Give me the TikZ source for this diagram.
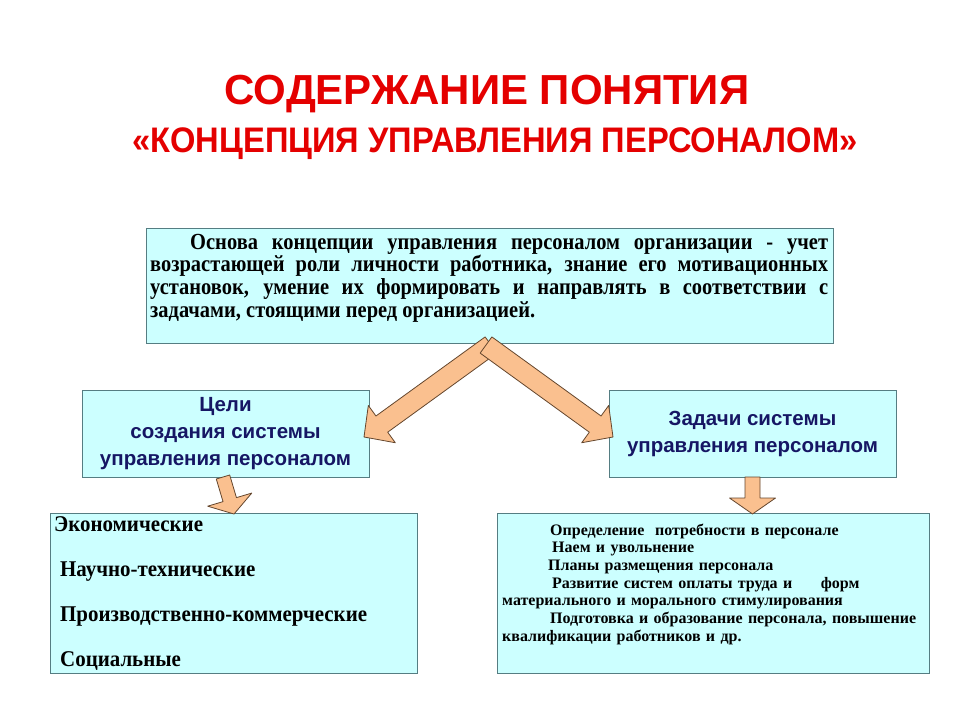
\documentclass[tikz,border=0pt]{standalone}
\usepackage{fontspec}
\setmainfont{Liberation Serif}
\setsansfont{Liberation Sans}
\newfontfamily\narrowsans[FakeStretch=0.92]{Liberation Sans}
\newfontfamily\narrowserif[FakeStretch=0.89]{Liberation Serif}
\newfontfamily\listserif[FakeStretch=0.93]{Liberation Serif}
\usetikzlibrary{calc}

\definecolor{boxfill}{RGB}{204,255,255}
\definecolor{boxline}{RGB}{85,125,130}
\definecolor{arrowfill}{RGB}{250,192,143}
\definecolor{arrowline}{RGB}{100,70,45}
\definecolor{titlered}{RGB}{228,0,0}
\definecolor{navytext}{RGB}{22,22,100}

% block arrow: tail, tip, half shaft, half head, head length
\newcommand{\blockarrow}[5]{%
  \coordinate (hb) at ($(#2)!#5!(#1)$);
  \filldraw[arrowbody] ($(#1)!#3!90:(#2)$) -- ($(hb)!#3!90:(#2)$)
    -- ($(hb)!#4!90:(#2)$) -- (#2) -- ($(hb)!#4!-90:(#2)$)
    -- ($(hb)!#3!-90:(#2)$) -- ($(#1)!#3!-90:(#2)$) -- cycle;
}

\begin{document}
\begin{tikzpicture}[x=1pt,y=-1pt,
    box/.style={draw=boxline, fill=boxfill, line width=1pt, inner sep=0pt},
    arrowbody/.style={draw=arrowline, fill=arrowfill, line width=0.8pt, line join=round},
    midtext/.style={font=\sffamily\bfseries\fontsize{20.5}{27}\selectfont, text=navytext, align=center}]

  \useasboundingbox (0,0) rectangle (960,720);

  % title
  \node[anchor=base, text=titlered, font=\sffamily\bfseries\fontsize{42}{48}\selectfont] (title1) at (487,104) {СОДЕРЖАНИЕ ПОНЯТИЯ};
  \node[anchor=base, text=titlered, font=\narrowsans\bfseries\fontsize{35.5}{40}\selectfont] (title2) at (495,152) {«КОНЦЕПЦИЯ УПРАВЛЕНИЯ ПЕРСОНАЛОМ»};

  % boxes
  \begin{scope}[every node/.style={box}]
    \node[minimum width=687, minimum height=115] (osnova)    at (489.5,285.5) {};
    \node[minimum width=287, minimum height=87]  (celi)      at (225.5,433.5) {};
    \node[minimum width=287, minimum height=87]  (zadachi)   at (752.5,433.5) {};
    \node[minimum width=367, minimum height=160] (celiList)  at (233.5,593)   {};
    \node[minimum width=432, minimum height=160] (zadList)   at (713,593)     {};
  \end{scope}

  % texts
  \node[anchor=base west, inner sep=0pt, text width=678, align=justify,
        font=\narrowserif\bfseries\fontsize{23}{22.7}\selectfont] (osnovaText) at (150,249)
    {\hspace*{40pt}Основа концепции управления персоналом организации - учет\linebreak
     возрастающей роли личности работника, знание его мотивационных\linebreak
     установок, умение их формировать и направлять в соответствии с\linebreak
     задачами, стоящими перед организацией.};

  \node[midtext] (celiText) at (celi) {Цели\\создания системы\\управления персоналом};
  \node[midtext] (zadachiText) at (zadachi) {Задачи системы\\управления персоналом};

  \node[anchor=base west, inner sep=0pt, text width=360, align=left,
        font=\listserif\bfseries\fontsize{22.5}{45}\selectfont] (celiListText) at (54,531)
    {Экономические\\
     \hspace*{6pt}Научно-технические\\
     \hspace*{6pt}Производственно-коммерческие\\
     \hspace*{6pt}Социальные};

  \node[anchor=base west, inner sep=0pt, text width=425, align=left,
        font=\bfseries\fontsize{16}{17.7}\selectfont] (zadListText) at (502,535)
    {\hspace*{48pt}Определение \ потребности в персонале\\
     \hspace*{50pt}Наем и увольнение\\
     \hspace*{46pt}Планы размещения персонала\\
     \hspace*{50pt}Развитие систем оплаты труда и \hspace{18pt} форм\\
     материального и морального стимулирования\\
     \hspace*{48pt}Подготовка и образование персонала, повышение\\
     квалификации работников и др.};

  % arrows
  \coordinate (tailL) at (491,345);
  \coordinate (tipL)  at (364,437);
  \coordinate (tailR) at (486,345);
  \coordinate (tipR)  at (613,437);
  \coordinate (tailC) at (223,477);
  \coordinate (tipC)  at (234,514);
  \coordinate (tailZ) at (752.5,477);
  \coordinate (tipZ)  at (752.5,514);

  \blockarrow{tailL}{tipL}{10pt}{23pt}{22pt}
  \blockarrow{tailR}{tipR}{10pt}{23pt}{22pt}
  \blockarrow{tailC}{tipC}{7pt}{23pt}{15pt}
  \blockarrow{tailZ}{tipZ}{7.5pt}{23pt}{16pt}

\end{tikzpicture}
\end{document}
